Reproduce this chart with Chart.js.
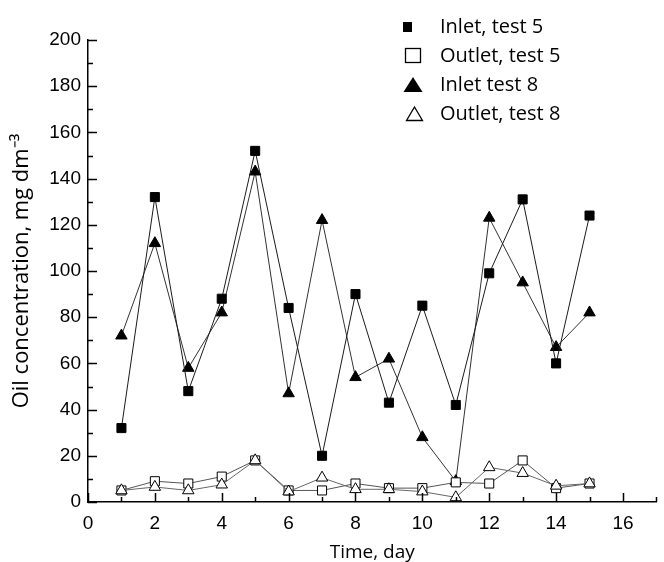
<!DOCTYPE html>
<html>
<head>
<meta charset="utf-8">
<script src="https://cdn.jsdelivr.net/npm/chart.js@4/dist/chart.umd.min.js"></script>
<style>
  html, body { margin: 0; padding: 0; background: #fff; }
  #wrap { width: 664px; height: 562px; }
</style>
</head>
<body>
<div id="wrap"><canvas id="oilChart" width="664" height="562"></canvas></div>
<script>
const days = [1, 2, 3, 4, 5, 6, 7, 8, 9, 10, 11, 12, 13, 14, 15];
const inletTest5 = [32, 132, 48, 88, 152, 84, 20, 90, 43, 85, 42, 99, 131, 60, 124];
const outletTest5 = [5, 9, 8, 11, 18, 5, 5, 8, 6, 6, 8.5, 8, 18, 6, 8];
const inletTest8 = [72, 112, 58, 82, 143, 47, 122, 54, 62, 28, 9, 123, 95, 67, 82];
const outletTest8 = [5, 6.5, 5, 7.5, 18, 4.5, 10.5, 5.5, 5.5, 4.5, 2, 15, 12.5, 7, 8];
const xTicks = [0, 2, 4, 6, 8, 10, 12, 14, 16];
const yTicks = [0, 20, 40, 60, 80, 100, 120, 140, 160, 180, 200];
const legendLabels = ['Inlet, test 5', 'Outlet, test 5', 'Inlet test 8', 'Outlet, test 8'];

const toPoints = (ys) => days.map((d, i) => ({ x: d, y: ys[i] }));

// inward ticks, majors longer than minors
const innerTicks = {
    id: 'innerTicks',
    afterDraw(chart) {
        const ctx = chart.ctx;
        const xs = chart.scales.x, ys = chart.scales.y;
        const area = chart.chartArea;
        ctx.save();
        ctx.strokeStyle = '#000';
        ctx.lineWidth = 1.5;
        ctx.beginPath();
        for (let v = xs.min; v <= xs.max; v += 1) {
            const px = Math.round(xs.getPixelForValue(v)) + 0.5;
            const len = v % 2 === 0 ? 9 : 5;
            ctx.moveTo(px, area.bottom);
            ctx.lineTo(px, area.bottom - len);
        }
        for (let v = ys.min; v <= ys.max; v += 10) {
            const py = Math.round(ys.getPixelForValue(v)) + 0.5;
            const len = v % 20 === 0 ? 9 : 5;
            ctx.moveTo(area.left, py);
            ctx.lineTo(area.left + len, py);
        }
        ctx.stroke();
        ctx.restore();
    }
};

// legend drawn in the top right corner, partly above the plot
const cornerLegend = {
    id: 'cornerLegend',
    afterDraw(chart) {
        const ctx = chart.ctx;
        const rows = [27, 56, 85, 114];
        ctx.save();
        ctx.fillStyle = '#000';
        ctx.strokeStyle = '#000';
        ctx.lineWidth = 1.3;
        // filled square
        ctx.fillRect(403, rows[0] - 5, 9, 10);
        // open square
        ctx.strokeRect(405.5, rows[1] - 7.5, 15, 14);
        // filled triangle
        ctx.beginPath();
        ctx.moveTo(413, rows[2] - 8);
        ctx.lineTo(422.5, rows[2] + 7);
        ctx.lineTo(403.5, rows[2] + 7);
        ctx.closePath();
        ctx.fill();
        // open triangle
        ctx.beginPath();
        ctx.moveTo(414.5, rows[3] - 7);
        ctx.lineTo(422.5, rows[3] + 6.5);
        ctx.lineTo(406.5, rows[3] + 6.5);
        ctx.closePath();
        ctx.stroke();

        ctx.font = '20px "Open Sans"';
        ctx.textBaseline = 'middle';
        ctx.textAlign = 'left';
        legendLabels.forEach((t, i) => ctx.fillText(t, 440, rows[i]));
        ctx.restore();
    }
};

const ctx = document.getElementById('oilChart').getContext('2d');
const oilChart = new Chart(ctx, {
    type: 'line',
    data: {
        datasets: [
            {
                label: legendLabels[0],
                data: toPoints(inletTest5),
                borderColor: '#1a1a1a',
                borderWidth: 1,
                pointStyle: 'rect',
                pointRadius: 6.4,
                pointBackgroundColor: '#000',
                pointBorderColor: '#000',
                pointBorderWidth: 1,
                order: 2
            },
            {
                label: legendLabels[1],
                data: toPoints(outletTest5),
                borderColor: '#555',
                borderWidth: 1,
                pointStyle: 'rect',
                pointRadius: 6.4,
                pointBackgroundColor: '#fff',
                pointBorderColor: '#000',
                pointBorderWidth: 1,
                order: 1
            },
            {
                label: legendLabels[2],
                data: toPoints(inletTest8),
                borderColor: '#333',
                borderWidth: 1,
                pointStyle: 'triangle',
                pointRadius: 6.6,
                pointBackgroundColor: '#000',
                pointBorderColor: '#000',
                pointBorderWidth: 1,
                order: 2
            },
            {
                label: legendLabels[3],
                data: toPoints(outletTest8),
                borderColor: '#666',
                borderWidth: 1,
                pointStyle: 'triangle',
                pointRadius: 6.6,
                pointBackgroundColor: '#fff',
                pointBorderColor: '#000',
                pointBorderWidth: 1,
                order: 0
            }
        ]
    },
    options: {
        responsive: false,
        animation: false,
        layout: { padding: { top: 40, right: 1, left: 0, bottom: 0 } },
        plugins: {
            legend: { display: false },
            tooltip: { enabled: false }
        },
        scales: {
            x: {
                type: 'linear',
                min: 0,
                max: 17,
                afterBuildTicks: (scale) => { scale.ticks = xTicks.map(v => ({ value: v })); },
                afterFit: (scale) => { scale.height = 60; },
                grid: { display: false, drawTicks: false },
                border: { display: true, color: '#000', width: 1.5 },
                ticks: {
                    color: '#000',
                    padding: 10,
                    maxRotation: 0,
                    font: { family: '"Liberation Sans", Arial', size: 19 }
                },
                title: {
                    display: true,
                    text: 'Time, day',
                    color: '#000',
                    padding: { top: 0, bottom: 0 },
                    font: { family: '"Open Sans"', size: 19, lineHeight: 1.0 }
                }
            },
            y: {
                min: 0,
                max: 200,
                afterBuildTicks: (scale) => { scale.ticks = yTicks.map(v => ({ value: v })); },
                afterFit: (scale) => { scale.width = 88; },
                grid: { display: false, drawTicks: false },
                border: { display: true, color: '#000', width: 1.5 },
                ticks: {
                    color: '#000',
                    padding: 7,
                    font: { family: '"Liberation Sans", Arial', size: 19 }
                },
                title: {
                    display: true,
                    text: 'Oil concentration, mg dm\u207B\u00B3',
                    color: '#000',
                    padding: { top: 9, bottom: 0 },
                    font: { family: '"Open Sans"', size: 22, lineHeight: 1.2 }
                }
            }
        }
    },
    plugins: [innerTicks, cornerLegend]
});
</script>
</body>
</html>
